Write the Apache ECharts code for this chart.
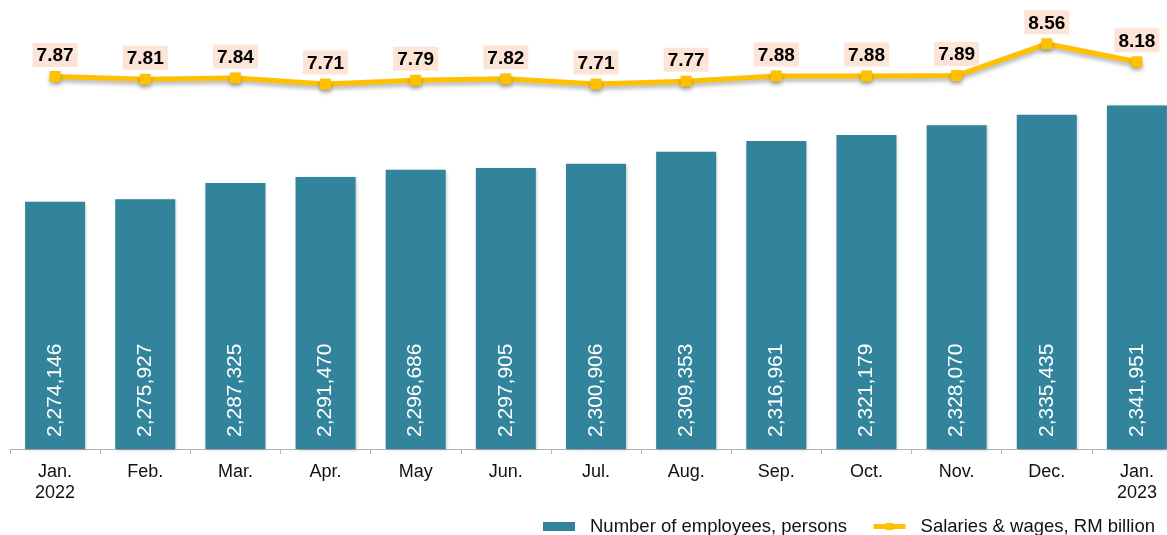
<!DOCTYPE html>
<html>
<head>
<meta charset="utf-8">
<script src="https://cdn.jsdelivr.net/npm/echarts@6/dist/echarts.min.js"></script>
<style>
  html, body { margin: 0; padding: 0; background: #fff; }
  #main { width: 1167px; height: 535px; }
</style>
</head>
<body>
<div id="main"></div>
<script type="text/javascript">
  // months on the x axis
  var months = ['Jan.\n2022', 'Feb.', 'Mar.', 'Apr.', 'May', 'Jun.', 'Jul.', 'Aug.', 'Sep.', 'Oct.', 'Nov.', 'Dec.', 'Jan.\n2023'];
  // number of employees, persons
  var employees = [2274146, 2275927, 2287325, 2291470, 2296686, 2297905, 2300906, 2309353, 2316961, 2321179, 2328070, 2335435, 2341951];
  // salaries & wages, RM billion
  var salaries = [7.87, 7.81, 7.84, 7.71, 7.79, 7.82, 7.71, 7.77, 7.88, 7.88, 7.89, 8.56, 8.18];

  var font = 'Arial, "Liberation Sans", sans-serif';

  var myChart = echarts.init(document.getElementById('main'));

  var option = {
    animation: false,
    textStyle: { fontFamily: font },
    grid: {
      left: 10,
      right: -15,
      top: 23,
      bottom: 86,
      outerBoundsMode: 'none'
    },
    legend: {
      right: 7,
      top: 512,
      itemGap: 24,
      itemWidth: 32,
      itemHeight: 9,
      textStyle: { fontSize: 18.5, color: '#111', fontFamily: font, padding: [0, 0, 0, 10] },
      data: [
        { name: 'Number of employees, persons', icon: 'rect' },
        { name: 'Salaries & wages, RM billion', lineStyle: { width: 5 } }
      ]
    },
    xAxis: {
      type: 'category',
      data: months,
      axisLine: { lineStyle: { color: '#b3b3b3', width: 1 } },
      axisTick: { show: true, length: 5, lineStyle: { color: '#b3b3b3' } },
      axisLabel: {
        fontSize: 18,
        color: '#111',
        lineHeight: 21,
        margin: 13,
        fontFamily: font
      }
    },
    yAxis: [
      { type: 'value', min: 2100000, max: 2400000, show: false },
      { type: 'value', min: 0, max: 9, show: false }
    ],
    series: [
      {
        name: 'Number of employees, persons',
        type: 'bar',
        yAxisIndex: 0,
        barWidth: 60,
        data: employees,
        itemStyle: {
          color: '#31849B',
          shadowColor: 'rgba(0,0,0,0.25)',
          shadowBlur: 3,
          shadowOffsetX: 1,
          shadowOffsetY: 1
        },
        label: {
          show: true,
          position: 'insideBottom',
          distance: 12,
          rotate: 90,
          align: 'left',
          verticalAlign: 'middle',
          color: '#fff',
          fontSize: 21,
          fontFamily: font,
          formatter: function (p) {
            return p.value.toLocaleString('en-US');
          }
        }
      },
      {
        name: 'Salaries & wages, RM billion',
        type: 'line',
        yAxisIndex: 1,
        data: salaries,
        symbol: 'rect',
        symbolSize: 11,
        lineStyle: {
          color: '#FFC000',
          width: 5,
          shadowColor: 'rgba(0,0,0,0.3)',
          shadowBlur: 4,
          shadowOffsetY: 3
        },
        itemStyle: {
          color: '#FFC000',
          shadowColor: 'rgba(0,0,0,0.3)',
          shadowBlur: 4,
          shadowOffsetY: 3
        },
        label: {
          show: true,
          position: 'top',
          distance: 4,
          color: '#000',
          fontWeight: 'bold',
          fontSize: 19,
          lineHeight: 20,
          fontFamily: font,
          backgroundColor: '#FCE4D6',
          padding: [3, 4, 1, 4],
          formatter: function (p) {
            return p.value.toFixed(2);
          }
        }
      }
    ]
  };

  myChart.setOption(option);
</script>
</body>
</html>
